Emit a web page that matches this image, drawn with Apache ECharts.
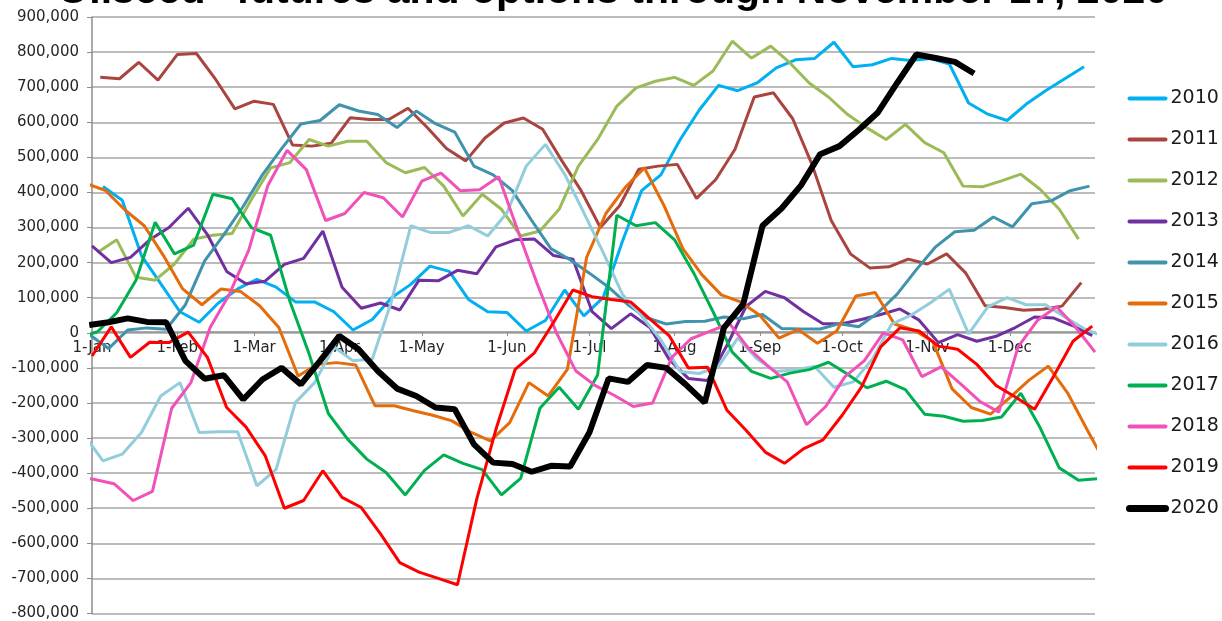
<!DOCTYPE html>
<html>
<head>
<meta charset="utf-8">
<script src="https://cdn.jsdelivr.net/npm/echarts@6/dist/echarts.min.js"></script>
<style>
html, body { margin: 0; padding: 0; background: #fff; }
#oilseed { width: 1222px; height: 621px; }
</style>
</head>
<body>
<div id="oilseed"></div>
<script>
var mychart = echarts.init(document.getElementById('oilseed'));

// month starts (day of year) and their tick labels
const monthDays = [0, 31, 59, 90, 120, 151, 181, 212, 243, 273, 304, 334];
const monthLabels = ['1-Jan', '1-Feb', '1-Mar', '1-Apr', '1-May', '1-Jun',
    '1-Jul', '1-Aug', '1-Sep', '1-Oct', '1-Nov', '1-Dec'];

const years = ['2010', '2011', '2012', '2013', '2014', '2015', '2016', '2017', '2018', '2019', '2020'];
const colors = ['#00b0f0', '#a9443f', '#9bbb59', '#7030a0', '#3f93ac', '#e46c0a',
    '#92cddc', '#00b050', '#f052b9', '#ff0000', '#000000'];

// weekly (Tuesday) reports; day of year of the first one, negative = late December before
const firstDay = [4, 3, 2, 0, -1, -2, -3, -5, -6, 0, -1];

// net position, thousands
const v2010 = [417, 378, 220, 140, 60, 30, 85, 125, 152, 130, 88, 88, 60, 8, 38, 100, 138, 190, 175, 95,
    60, 58, 5, 35, 122, 48, 100, 260, 405, 450, 550, 635, 705, 690, 712, 755, 778, 782, 828, 758,
    764, 782, 776, 782, 766, 655, 623, 605, 652, 690, 724, 758];
const v2011 = [728, 724, 771, 720, 793, 796, 722, 638, 660, 651, 535, 532, 540, 613, 608, 608, 640, 585, 525, 490,
    555, 598, 612, 580, 490, 405, 300, 362, 466, 475, 480, 383, 437, 523, 672, 684, 610, 480, 320, 225,
    185, 188, 210, 196, 225, 170, 77, 72, 64, 67, 76, 143];
const v2012 = [229, 265, 158, 150, 196, 267, 278, 283, 380, 470, 485, 551, 532, 546, 546, 485, 456, 471, 418, 333,
    395, 352, 276, 290, 352, 475, 551, 646, 698, 717, 728, 705, 746, 831, 783, 817, 769, 712, 672, 622,
    584, 551, 594, 542, 513, 418, 416, 433, 452, 409, 352, 267];
const v2013 = [248, 200, 215, 265, 300, 355, 280, 175, 140, 147, 195, 212, 290, 130, 70, 85, 65, 150, 148, 178,
    168, 245, 265, 267, 220, 210, 60, 12, 54, 15, -75, -130, -136, -37, 75, 118, 100, 60, 26, 26,
    38, 52, 68, 36, -28, -5, -24, -10, 15, 45, 42, 20, -8];
const v2014 = [-5, -45, 8, 14, 10, 80, 205, 280, 360, 450, 525, 595, 605, 650, 632, 622, 585, 632, 596, 572,
    475, 450, 405, 320, 240, 208, 170, 130, 80, 42, 25, 32, 33, 45, 40, 52, 12, 11, 11, 26,
    17, 57, 110, 180, 245, 288, 292, 330, 302, 368, 376, 405, 418];
const v2015 = [425, 405, 350, 305, 220, 125, 80, 125, 118, 77, 15, -123, -90, -85, -92, -208, -208, -222, -235, -251,
    -284, -308, -256, -142, -180, -104, 215, 340, 414, 470, 365, 240, 165, 108, 88, 50, -15, 9, -30, 5,
    105, 115, 25, 8, -25, -160, -213, -232, -185, -135, -95, -171, -274, -375];
const v2016 = [-290, -365, -346, -284, -180, -142, -284, -282, -282, -436, -389, -199, -142, -40, -80, -75, 90, 305, 286, 286,
    305, 276, 342, 475, 537, 452, 342, 229, 110, 48, -20, -110, -116, -95, -15, -75, -110, -105, -96, -155,
    -140, -75, 25, 50, 85, 124, -3, 74, 100, 80, 80, 45, 12, -10];
const v2017 = [-15, 3, 57, 150, 315, 225, 250, 395, 382, 300, 278, 90, -60, -230, -303, -360, -398, -462, -392, -348,
    -372, -390, -462, -415, -215, -155, -218, -120, 335, 305, 314, 265, 170, 60, -55, -110, -130, -115, -105, -84,
    -118, -157, -138, -162, -232, -238, -252, -250, -240, -172, -270, -385, -420, -416];
const v2018 = [-410, -418, -430, -478, -452, -215, -142, 15, 110, 235, 420, 520, 465, 320, 340, 400, 385, 330, 432, 455,
    405, 408, 445, 290, 140, 0, -108, -150, -178, -210, -200, -70, -17, 5, 26, -45, -95, -140, -262, -210,
    -125, -80, 0, -20, -125, -97, -145, -195, -226, -40, 35, 74, 15, -55];
const v2019 = [-66, 17, -70, -27, -28, 2, -70, -213, -268, -350, -500, -478, -393, -469, -498, -573, -655, -682, -700, -718,
    -474, -275, -104, -57, 30, 122, 103, 95, 88, 40, -8, -100, -98, -220, -278, -340, -372, -330, -305, -235,
    -155, -40, 14, 5, -38, -47, -90, -150, -183, -218, -123, -24, 19];
const v2020 = [22, 30, 41, 31, 30, -80, -131, -121, -190, -133, -100, -147, -80, -9, -47, -109, -159, -180, -213, -218,
    -318, -370, -374, -396, -379, -381, -284, -130, -140, -92, -100, -147, -199, 15, 82, 305, 355, 420, 509, 532,
    578, 628, 712, 793, 783, 772, 739];

const values = [v2010, v2011, v2012, v2013, v2014, v2015, v2016, v2017, v2018, v2019, v2020];

var series = years.map(function (name, i) {
    return {
        name: name,
        type: 'line',
        symbol: 'none',
        clip: true,
        color: colors[i],
        lineStyle: { width: name === '2020' ? 6 : 3, color: colors[i] },
        data: values[i].map(function (v, k) {
            return [firstDay[i] + 7 * k, v * 1000];
        })
    };
});

option = {
    backgroundColor: '#ffffff',
    animation: false,
    // title sits mostly above the top edge of the picture
    graphic: [{
        type: 'text',
        x: 603,
        y: 12,
        silent: true,
        style: {
            text: '"Oilseed" futures and options through November 17, 2020',
            align: 'center',
            verticalAlign: 'bottom',
            fontFamily: 'Liberation Sans',
            fontSize: 41,
            fontWeight: 'bold',
            fill: '#000'
        }
    }],
    legend: {
        orient: 'vertical',
        left: 1121,
        top: 84,
        itemWidth: 36,
        itemHeight: 14,
        itemGap: 22,
        data: years.map(function (y) {
            return { name: y, lineStyle: { width: y === '2020' ? 7 : 4, cap: 'round' } };
        }),
        itemStyle: { color: 'rgba(0,0,0,0)', borderWidth: 0, opacity: 0 },
        textStyle: {
            fontFamily: 'DejaVu Sans',
            fontSize: 19,
            color: '#1a1a1a'
        }
    },
    grid: {
        left: 92,
        right: 127,
        top: 17,
        bottom: 6
    },
    xAxis: {
        type: 'value',
        min: 0,
        max: 365,
        position: 'bottom',
        // move the axis up from the grid bottom to the zero line
        offset: -281.4,
        axisLine: {
            onZero: false,
            lineStyle: { color: '#8c8c8c', width: 1.5 }
        },
        axisTick: {
            show: true,
            length: 4,
            customValues: monthDays,
            lineStyle: { color: '#8c8c8c' }
        },
        axisLabel: {
            customValues: monthDays,
            margin: 9,
            fontFamily: 'DejaVu Sans',
            fontSize: 15,
            color: '#262626',
            formatter: function (v) {
                return monthLabels[monthDays.indexOf(v)];
            }
        },
        splitLine: { show: false }
    },
    yAxis: {
        type: 'value',
        min: -800000,
        max: 900000,
        interval: 100000,
        axisLine: {
            show: true,
            onZero: false,
            lineStyle: { color: '#8c8c8c', width: 1.5 }
        },
        axisTick: {
            show: true,
            length: 5,
            lineStyle: { color: '#8c8c8c' }
        },
        axisLabel: {
            margin: 13,
            fontFamily: 'DejaVu Sans',
            fontSize: 15,
            color: '#262626',
            formatter: function (v) {
                return v.toLocaleString('en-US');
            }
        },
        splitLine: {
            lineStyle: { color: '#a6a6a6', width: 1.5 }
        }
    },
    series: series
};
mychart.setOption(option, true);
</script>
</body>
</html>
